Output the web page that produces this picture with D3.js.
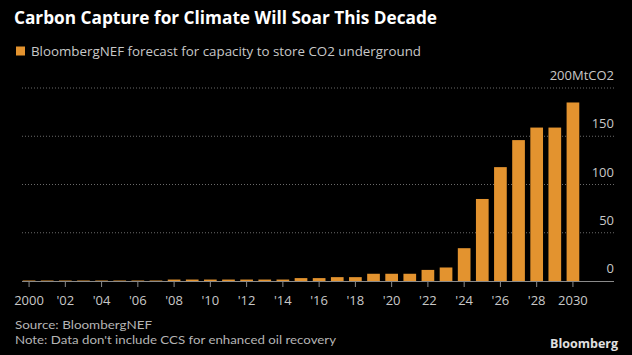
<!DOCTYPE html>
<html><head><meta charset="utf-8">
<script src="https://cdn.jsdelivr.net/npm/d3@7"></script>
<style>
html,body{margin:0;padding:0;background:#000;}
svg{display:block;}
text{font-family:"Open Sans","Noto Sans",sans-serif;}
</style></head>
<body>
<svg id="chart" width="632" height="355"></svg>
<script>
const years = d3.range(2000, 2031);
const capacity = [0.5,0.5,0.5,0.5,0.5,0.5,0.5,0.5,1.5,1.5,1.5,1.5,1.5,1.5,1.5,3,3,4,4,7.5,7.5,7.5,11.5,14,34,85,118,146,159,159,185];
const yTicks = [0,50,100,150,200];
const xTicks = d3.range(2000, 2031, 2);
const title = "Carbon Capture for Climate Will Soar This Decade";
const legendLabel = "BloombergNEF forecast for capacity to store CO2 underground";
const source = "Source: BloombergNEF";
const note = "Note: Data don't include CCS for enhanced oil recovery";

const svg = d3.select("#chart");
svg.append("rect").attr("width",632).attr("height",355).attr("fill","#000");

const x = d3.scaleBand().domain(years).range([20, 582]).paddingInner(0.3).paddingOuter(0.15);
const y = d3.scaleLinear().domain([0,200]).range([281, 88]);
const left = 22, right = 614;

// gridlines
svg.append("g").selectAll("line").data(yTicks.filter(d=>d>0)).join("line")
  .attr("x1",left).attr("x2",right).attr("y1",d=>y(d)).attr("y2",d=>y(d))
  .attr("stroke","#6a6a6a").attr("stroke-width",1).attr("stroke-dasharray","1,2");

// y labels
svg.append("g").selectAll("text").data(yTicks).join("text")
  .attr("x",right).attr("y",d=>y(d)-8).attr("text-anchor","end")
  .attr("fill","#c8c8c8").attr("font-size",13)
  .text(d=> d===200 ? "200MtCO2" : d);

// bars
svg.append("g").selectAll("rect").data(years).join("rect")
  .attr("x",d=>x(d)).attr("width",x.bandwidth())
  .attr("y",(d,i)=>y(capacity[i])).attr("height",(d,i)=>y(0)-y(capacity[i]))
  .attr("fill","#e3932f");

// baseline
svg.append("line").attr("x1",left).attr("x2",right).attr("y1",y(0)+0.5).attr("y2",y(0)+0.5)
  .attr("stroke","#8a8a8a").attr("stroke-width",1.2);

// x axis ticks & labels
const xa = svg.append("g");
xa.selectAll("line").data(xTicks).join("line")
  .attr("x1",d=>x(d)+x.bandwidth()/2).attr("x2",d=>x(d)+x.bandwidth()/2)
  .attr("y1",y(0)).attr("y2",y(0)+6).attr("stroke","#8a8a8a").attr("stroke-width",1);
xa.selectAll("text").data(xTicks).join("text")
  .attr("x",d=>x(d)+x.bandwidth()/2).attr("y",305).attr("text-anchor","middle")
  .attr("fill","#c8c8c8").attr("font-size",13)
  .text(d=> (d===2000||d===2030) ? String(d) : "'" + String(d).slice(2));

// title
svg.append("text").attr("x",14).attr("y",24).attr("fill","#fff")
  .attr("font-size",17.2).attr("font-weight","bold")
  .attr("textLength",423).attr("lengthAdjust","spacingAndGlyphs").text(title);

// legend
svg.append("rect").attr("x",16).attr("y",46.5).attr("width",9).attr("height",9).attr("fill","#e3932f");
svg.append("text").attr("x",31).attr("y",55.5).attr("fill","#c8c8c8").attr("font-size",13.4)
  .attr("textLength",390).attr("lengthAdjust","spacingAndGlyphs").text(legendLabel);

// footer
svg.append("text").attr("x",15).attr("y",329).attr("fill","#b4b4b4").attr("font-size",12.3)
  .style("font-family","Lato, 'Open Sans', sans-serif")
  .attr("textLength",137).attr("lengthAdjust","spacingAndGlyphs").text(source);
svg.append("text").attr("x",15).attr("y",344).attr("fill","#b4b4b4").attr("font-size",12.3)
  .style("font-family","Lato, 'Open Sans', sans-serif")
  .attr("textLength",321).attr("lengthAdjust","spacingAndGlyphs").text(note);
svg.append("text").attr("x",550).attr("y",348).attr("fill","#e0e0e0")
  .attr("font-size",12.5).attr("font-weight","bold")
  .attr("textLength",68).attr("lengthAdjust","spacingAndGlyphs").text("Bloomberg");
</script>
</body></html>
